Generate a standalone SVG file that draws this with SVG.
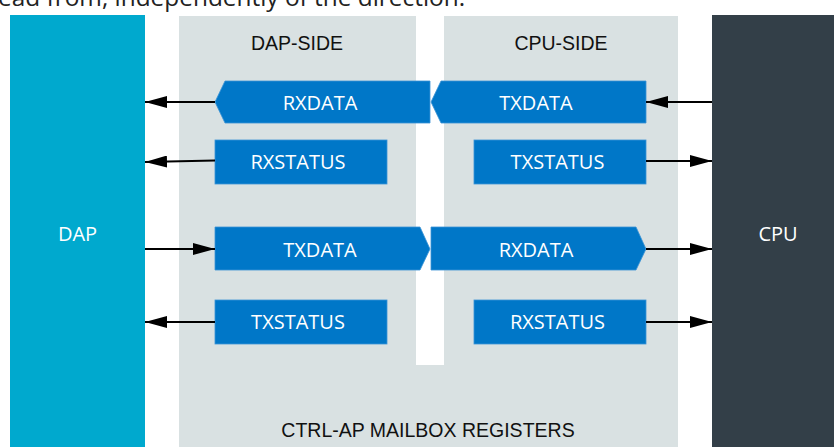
<svg xmlns="http://www.w3.org/2000/svg" width="834" height="447" viewBox="0 0 834 447">
<defs>
<style>
.reg{fill:#0077C8;stroke:#3A93D6;stroke-width:0.8}
.rt{font-family:"Open Sans","Liberation Sans",sans-serif;font-size:20px;fill:#FFFFFF;text-anchor:middle}
.hd{font-family:"Liberation Sans",Arial,sans-serif;font-size:19.5px;fill:#111111;text-anchor:middle}
.con{stroke:#000000;stroke-width:2;fill:none;marker-end:url(#ah)}
</style>
<marker id="ah" markerUnits="userSpaceOnUse" markerWidth="22" markerHeight="12" refX="22" refY="6" orient="auto">
<path d="M0,0 L22,6 L0,12 Z" fill="#000000"/>
</marker>
</defs>
<rect x="0" y="0" width="834" height="447" fill="#FFFFFF"/>
<text x="-2" y="5.5" font-family="'Open Sans','Liberation Sans',sans-serif" font-size="24.4" fill="#222222">ead from, independently of the direction.</text>

<g id="mailbox">
<rect x="179" y="16" width="499" height="431" fill="#D9E1E2"/>
<rect x="416" y="16" width="28" height="349" fill="#FFFFFF"/>
<text class="hd" x="297" y="50">DAP-SIDE</text>
<text class="hd" x="561" y="50">CPU-SIDE</text>
<text class="hd" x="428" y="437">CTRL-AP MAILBOX REGISTERS</text>
</g>

<g id="dap">
<rect x="10" y="15" width="135" height="432" fill="#00A9CE"/>
<text class="rt" x="77.5" y="241">DAP</text>
</g>

<g id="cpu">
<rect x="712" y="15" width="122" height="432" fill="#333F48"/>
<text class="rt" x="778" y="241">CPU</text>
</g>

<g id="dap-rxdata">
<polygon class="reg" points="215,102 225,81 430,81 430,123 225,123"/>
<text class="rt" x="320" y="109.5">RXDATA</text>
</g>
<g id="cpu-txdata">
<polygon class="reg" points="431,102 441,81 646,81 646,123 441,123"/>
<text class="rt" x="536" y="109.5">TXDATA</text>
</g>
<g id="dap-rxstatus">
<rect class="reg" x="215" y="140" width="172" height="44"/>
<text class="rt" x="298" y="169">RXSTATUS</text>
</g>
<g id="cpu-txstatus">
<rect class="reg" x="474" y="140" width="172" height="44"/>
<text class="rt" x="557.5" y="169">TXSTATUS</text>
</g>
<g id="dap-txdata">
<polygon class="reg" points="215,227 420,227 430,249 420,270 215,270"/>
<text class="rt" x="320" y="256.5">TXDATA</text>
</g>
<g id="cpu-rxdata">
<polygon class="reg" points="431,227 636,227 646,249 636,270 431,270"/>
<text class="rt" x="536" y="256.5">RXDATA</text>
</g>
<g id="dap-txstatus">
<rect class="reg" x="215" y="300" width="172" height="44"/>
<text class="rt" x="298" y="329">TXSTATUS</text>
</g>
<g id="cpu-rxstatus">
<rect class="reg" x="474" y="300" width="172" height="44"/>
<text class="rt" x="557.5" y="329">RXSTATUS</text>
</g>

<g id="connectors">
<line class="con" x1="215" y1="102" x2="145" y2="102"/>
<line class="con" x1="712" y1="102" x2="646" y2="102"/>
<line class="con" x1="215" y1="160.5" x2="145" y2="162"/>
<line class="con" x1="646" y1="161" x2="712" y2="161"/>
<line class="con" x1="145" y1="249" x2="215" y2="249"/>
<line class="con" x1="646" y1="249" x2="712" y2="249"/>
<line class="con" x1="215" y1="322" x2="145" y2="322"/>
<line class="con" x1="646" y1="322" x2="712" y2="322"/>
</g>
</svg>
